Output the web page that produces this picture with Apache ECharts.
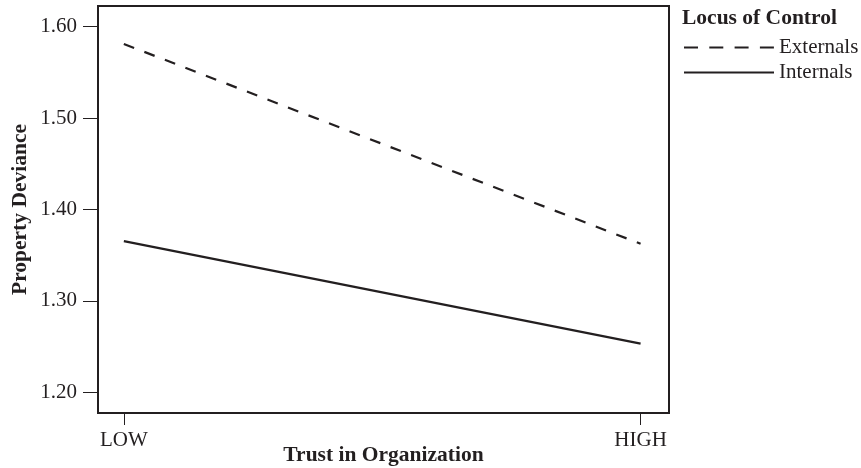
<!DOCTYPE html>
<html>
<head>
<meta charset="utf-8">
<script src="https://cdn.jsdelivr.net/npm/echarts@6/dist/echarts.min.js"></script>
<style>html,body{margin:0;padding:0;background:#fff;}#c{width:861px;height:468px;}</style>
</head>
<body>
<div id="c"></div>
<script>
const categories = ["LOW", "HIGH"];
const categoryPositions = [0, 1];
const externals = [1.581, 1.3625];
const internals = [1.3655, 1.2534];
const yTicks = [1.2, 1.3, 1.4, 1.5, 1.6];
const legendTitle = "Locus of Control";
const seriesNames = ["Externals", "Internals"];

const FONT = "Liberation Serif";
const INK = "#231f20";
const chart = echarts.init(document.getElementById('c'));
chart.setOption({
  backgroundColor: '#fff',
  animation: false,
  title: {
    text: legendTitle, left: 682, top: 7, padding: [0, 0, 0, 0],
    textStyle: { fontFamily: FONT, fontSize: 21.5, fontWeight: 'bold', color: INK }
  },
  legend: {
    orient: 'vertical', left: 678, top: 32,
    itemWidth: 90, itemHeight: 14, itemGap: 4,
    itemStyle: { opacity: 0 },
    textStyle: { fontFamily: FONT, fontSize: 21, color: INK, lineHeight: 21 },
    data: [
      { name: seriesNames[0], lineStyle: { type: [14, 11.3] } },
      { name: seriesNames[1] }
    ]
  },
  grid: { left: 98, right: 192, top: 6, bottom: 55, show: true, borderColor: INK, borderWidth: 2,
          containLabel: false, outerBoundsMode: 'none' },
  xAxis: {
    type: 'value', min: -0.05, max: 1.055,
    name: 'Trust in Organization', nameLocation: 'middle', nameGap: 31, nameMoveOverlap: false,
    nameTextStyle: { fontFamily: FONT, fontSize: 21.5, fontWeight: 'bold', color: INK },
    axisLine: { show: false, onZero: false },
    splitLine: { show: false },
    axisTick: { show: true, customValues: categoryPositions, length: 12, lineStyle: { color: INK, width: 1 } },
    axisLabel: {
      customValues: categoryPositions, margin: 17,
      fontFamily: FONT, fontSize: 21, color: INK,
      formatter: v => categories[categoryPositions.indexOf(v)] || ''
    }
  },
  yAxis: {
    type: 'value', min: 1.1775, max: 1.6225,
    name: 'Property Deviance', nameLocation: 'middle', nameGap: 67, nameRotate: 90, nameMoveOverlap: false,
    nameTextStyle: { fontFamily: FONT, fontSize: 21.5, fontWeight: 'bold', color: INK },
    axisLine: { show: false, onZero: false },
    splitLine: { show: false },
    axisTick: { show: true, customValues: yTicks, length: 15, lineStyle: { color: INK, width: 1 } },
    axisLabel: {
      customValues: yTicks, margin: 21,
      fontFamily: FONT, fontSize: 21, color: INK,
      formatter: v => v.toFixed(2)
    }
  },
  series: [
    { name: seriesNames[0], type: 'line', symbol: 'none',
      data: categoryPositions.map((x, i) => [x, externals[i]]),
      lineStyle: { color: INK, width: 2.2, type: [11, 11] }, itemStyle: { color: INK } },
    { name: seriesNames[1], type: 'line', symbol: 'none',
      data: categoryPositions.map((x, i) => [x, internals[i]]),
      lineStyle: { color: INK, width: 2.2, type: 'solid' }, itemStyle: { color: INK } }
  ]
});
</script>
</body>
</html>
